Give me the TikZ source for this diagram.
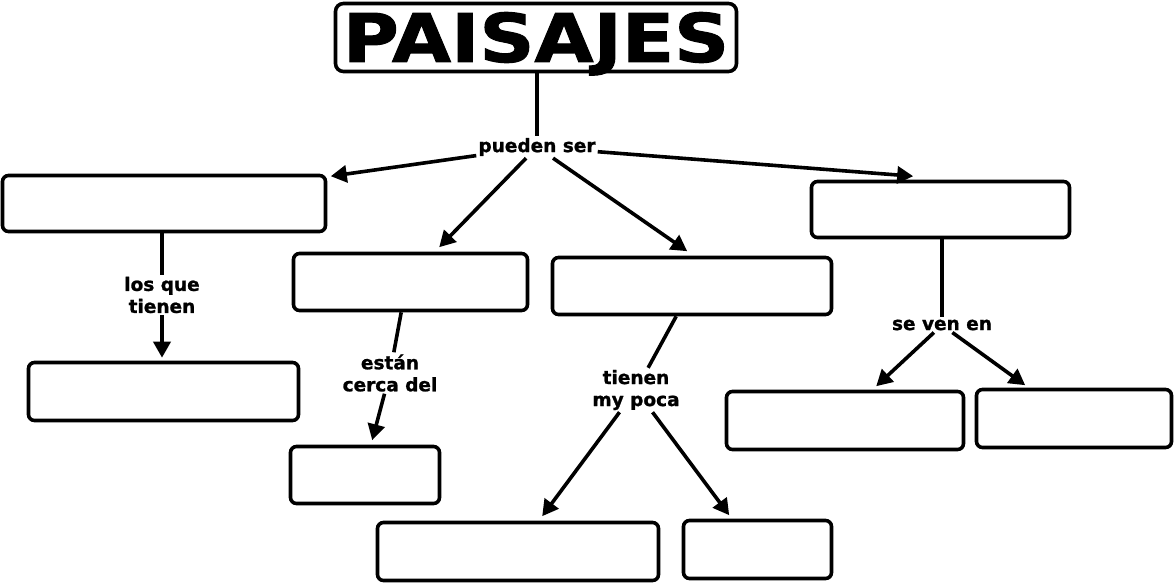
\documentclass[tikz,border=0pt]{standalone}
\usepackage{fontspec}
\setmainfont{DejaVu Sans}
\newfontfamily\titlefont{DejaVu Sans}[FakeStretch=1.14,BoldFeatures={FakeBold=1.5}]
\newfontfamily\lblfont{DejaVu Sans}[BoldFeatures={FakeBold=1.2}]
\usetikzlibrary{arrows.meta,calc}
\begin{document}
\begin{tikzpicture}[x=1pt,y=-1pt,
  box/.style={draw,line width=3.6pt,rounded corners=6pt,inner sep=0pt},
  lbl/.style={font=\lblfont\bfseries\fontsize{18.5}{22}\selectfont,align=center,inner sep=2pt},
  conn/.style={line width=3.6pt},
  arr/.style={line width=3.6pt,-{Triangle[length=16pt,width=17pt]}}]
\useasboundingbox (0,0) rectangle (1175,584);
% boxes
\node[box,rounded corners=8pt,minimum width=401pt,minimum height=68pt,
  font=\titlefont\bfseries\fontsize{67}{70}\selectfont,text height=48.8pt,text depth=0pt] (title) at (536,37.5) {PAISAJES};
\node[box,minimum width=323pt,minimum height=56pt] (A) at (164,203.5) {};
\node[box,minimum width=234pt,minimum height=57pt] (B) at (410.5,282) {};
\node[box,minimum width=279pt,minimum height=57pt] (C) at (692,286) {};
\node[box,minimum width=258pt,minimum height=56pt] (D) at (940.5,209.5) {};
\node[box,minimum width=270pt,minimum height=58pt] (E) at (163.5,391.5) {};
\node[box,minimum width=149pt,minimum height=57pt] (F) at (365,475) {};
\node[box,minimum width=281pt,minimum height=58pt] (G) at (518,551.5) {};
\node[box,minimum width=148pt,minimum height=58pt] (H) at (757.5,549.5) {};
\node[box,minimum width=237pt,minimum height=58pt] (I) at (845,420.5) {};
\node[box,minimum width=195pt,minimum height=58pt] (J) at (1074,418.5) {};
% labels
\node[lbl] (l1) at (537,147) {pueden ser};
\node[lbl] (l2) at (162,295) {los que\\tienen};
\node[lbl] (l3) at (390,373) {están\\cerca del};
\node[lbl] (l4) at (636,390) {tienen\\my poca};
\node[lbl] (l5) at (942,325) {se ven en};
% connectors
\draw[conn] (l1 |- title.south) -- (l1);
\draw[arr] (l1) -- ($(A.north east)+(3.5,2.5)$);
\draw[arr] (l1) -- ($(D.north west)+(103.5,-3.5)$);
\draw[arr] (l1) -- ($(B.north west)+(147.5,-4.5)$);
\draw[arr] (l1) -- ($(C.north west)+(136.5,-4.5)$);
\draw[conn] (l2 |- A.south) -- (l2);
\draw[arr] (l2) -- ($(l2 |- E.north)+(0,-3)$);
\draw[conn] ($(B.south west)+(109.5,0)$) -- (l3);
\draw[arr] (l3) -- ($(F.north west)+(83.5,-4.5)$);
\draw[conn] ($(C.south west)+(125.5,0)$) -- (l4);
\draw[arr] (l4) -- ($(G.north west)+(166.5,-4.5)$);
\draw[arr] (l4) -- ($(H.north west)+(47.5,-3.5)$);
\draw[conn] (l5 |- D.south) -- (l5);
\draw[arr] (l5) -- ($(I.north west)+(151.5,-3.5)$);
\draw[arr] (l5) -- ($(J.north west)+(50.5,-2.5)$);
\end{tikzpicture}
\end{document}
